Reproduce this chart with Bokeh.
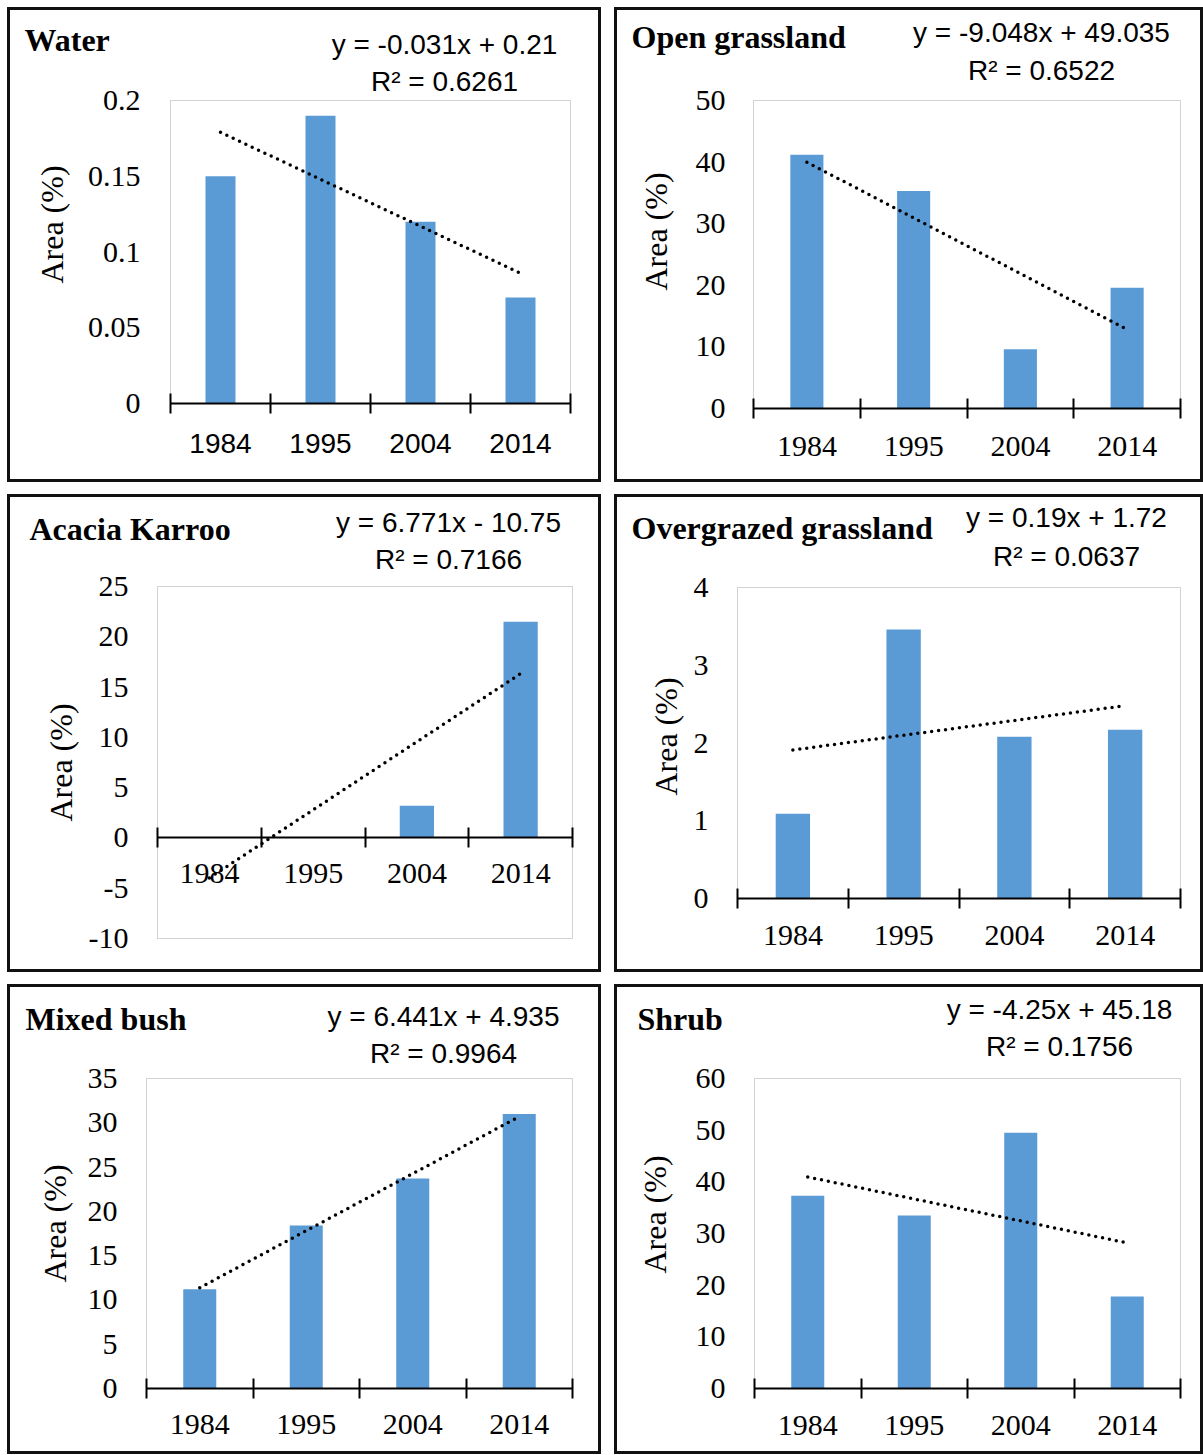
import math

from bokeh.embed import file_html
from bokeh.layouts import column, row
from bokeh.models import BoxAnnotation, ColumnDataSource, FixedTicker, Label, Range1d
from bokeh.plotting import figure
from bokeh.resources import INLINE

# ---- data -------------------------------------------------------------
years = ["1984", "1995", "2004", "2014"]

water = [0.15, 0.19, 0.12, 0.07]
open_grassland = [41.2, 35.3, 9.6, 19.6]
acacia_karroo = [0.0, 0.0, 3.2, 21.5]
overgrazed_grassland = [1.09, 3.46, 2.08, 2.17]
mixed_bush = [11.2, 18.4, 23.7, 31.0]
shrub = [37.3, 33.5, 49.5, 17.8]

# linear trend lines: slope, intercept, R²
water_fit = (-0.031, 0.21, "0.6261")
open_fit = (-9.048, 49.035, "0.6522")
acacia_fit = (6.771, -10.75, "0.7166")
overgrazed_fit = (0.19, 1.72, "0.0637")
mixed_fit = (6.441, 4.935, "0.9964")
shrub_fit = (-4.25, 45.18, "0.1756")

# y-axis ticks and their labels
water_ticks = [0, 0.05, 0.1, 0.15, 0.2]
water_tick_labels = ["0", "0.05", "0.1", "0.15", "0.2"]
open_ticks = [0, 10, 20, 30, 40, 50]
acacia_ticks = [-10, -5, 0, 5, 10, 15, 20, 25]
overgrazed_ticks = [0, 1, 2, 3, 4]
mixed_ticks = [0, 5, 10, 15, 20, 25, 30, 35]
shrub_ticks = [0, 10, 20, 30, 40, 50, 60]

# ---- styling ----------------------------------------------------------
SERIF = "Liberation Serif"
SANS = "Liberation Sans"
BAR_COLOR = "#5B9BD5"
BORDER_W = 3
PANEL_BORDER = {"border": f"{BORDER_W}px solid #111111"}
# Label draws its alphabetic baseline this many pixels below the anchor
BASELINE_SHIFT = 11


def eq_text(slope, intercept):
    sign = "+" if intercept >= 0 else "-"
    return f"y = {slope:g}x {sign} {abs(intercept):g}"


def make_panel(name, values, fit, ticks, tick_labels, lay):
    """One boxed chart. The canvas is the whole panel; the plot box, the
    axes and all texts are placed inside it in page pixel positions."""
    W, H = lay["size"]
    ox, oy = lay["origin"]
    pl, pt, pr, pb = (lay["plot"][0] - ox, lay["plot"][1] - oy,
                      lay["plot"][2] - ox, lay["plot"][3] - oy)
    n = len(years)
    ymin, ymax = ticks[0], ticks[-1]

    # ranges chosen so that the plot box lands on [pl, pr] x [pt, pb]
    xppu = (pr - pl) / n
    yppu = (pb - pt) / (ymax - ymin)
    x_range = Range1d(-pl / xppu, (W - pl) / xppu)
    y_range = Range1d(ymin + (pb - H) / yppu, ymin + pb / yppu)

    p = figure(
        width=W, height=H, output_backend="svg", toolbar_location=None, tools="",
        x_range=x_range, y_range=y_range, min_border=0,
        min_border_left=0, min_border_right=0, min_border_top=0, min_border_bottom=0,
        styles=PANEL_BORDER,
    )
    p.xgrid.visible = False
    p.ygrid.visible = False
    p.outline_line_color = None
    p.background_fill_color = "white"
    p.border_fill_color = "white"

    # plot-area frame
    p.add_layout(BoxAnnotation(left=0, right=n, bottom=ymin, top=ymax,
                               fill_alpha=0, line_color="#6b6b6b", line_width=1,
                               level="underlay"))

    xs = [i + 0.5 for i in range(n)]

    # bars
    src = ColumnDataSource(dict(x=xs, top=values))
    p.vbar(x="x", top="top", width=lay["bar_w"], source=src,
           fill_color=BAR_COLOR, line_color=None)

    # dotted linear trend over the first and last category
    slope, intercept, r2 = fit
    tx = [xs[0], xs[-1]]
    ty = [slope * 1 + intercept, slope * n + intercept]
    p.line(tx, ty, line_color="black", line_width=3.5, line_dash="0 7",
           line_cap="round")

    # x axis at zero: boundary ticks crossing the line, year labels between
    xa = p.xaxis[0]
    xa.fixed_location = 0
    xa.bounds = (0, n)
    xa.ticker = FixedTicker(ticks=xs, minor_ticks=list(range(n + 1)))
    xa.major_label_overrides = {x: yr for x, yr in zip(xs, years)}
    xa.major_tick_line_color = None
    xa.major_tick_in = 0
    xa.major_tick_out = 0
    xa.minor_tick_in = 10
    xa.minor_tick_out = 10
    xa.minor_tick_line_color = "black"
    xa.minor_tick_line_width = 2
    xa.axis_line_color = "black"
    xa.axis_line_width = 2
    xa.major_label_standoff = lay["x_standoff"]
    xa.major_label_text_font = lay.get("x_font", SERIF)
    xa.major_label_text_font_size = lay.get("x_font_size", "30px")
    xa.major_label_text_color = "black"

    # y axis on the left edge of the plot box: labels only
    ya = p.yaxis[0]
    ya.fixed_location = 0
    ya.bounds = (ymin, ymax)
    ya.ticker = FixedTicker(ticks=ticks)
    ya.major_label_overrides = {t: s for t, s in zip(ticks, tick_labels)}
    ya.axis_line_color = None
    ya.major_tick_line_color = None
    ya.minor_tick_line_color = None
    ya.major_tick_in = 0
    ya.major_tick_out = 0
    ya.major_label_standoff = lay["y_standoff"]
    ya.major_label_text_font = SERIF
    ya.major_label_text_font_size = "30px"
    ya.major_label_text_color = "black"

    def label(text, pos, font, size, style="normal", align="left", angle=0.0):
        if angle:
            sx = pos[0] - ox - BASELINE_SHIFT
            sy = H - (pos[1] - oy)
        else:
            sx = pos[0] - ox
            sy = H - (pos[1] - oy) + BASELINE_SHIFT
        p.add_layout(Label(
            x=sx, y=sy, x_units="screen", y_units="screen", text=text,
            text_font=font, text_font_size=size, text_font_style=style,
            text_align=align, text_baseline="alphabetic", angle=angle,
            text_color="black",
        ))

    ex, e1, e2 = lay["eq"]
    label(name, lay["title"], SERIF, "32px", style="bold")
    label(eq_text(slope, intercept), (ex, e1), SANS, "28px", align="center")
    label(f"R\u00b2 = {r2}", (ex, e2), SANS, "28px", align="center")
    label("Area (%)", lay["ylab"], SERIF, "32px", align="center", angle=math.pi / 2)
    return p


# page positions (pixels) of each panel's canvas, plot box and texts
layouts = {
    "water": dict(origin=(10, 10), size=(594, 475), plot=(170, 100, 570, 403),
                  title=(24, 50), eq=(444, 55, 92), ylab=(62, 224),
                  bar_w=0.30, x_standoff=20, y_standoff=30,
                  x_font=SANS, x_font_size="28px"),
    "open": dict(origin=(617, 10), size=(589, 475), plot=(753, 100, 1180, 408),
                 title=(631, 47), eq=(1041, 43, 81), ylab=(666, 231),
                 bar_w=0.31, x_standoff=18, y_standoff=28),
    "acacia": dict(origin=(10, 497), size=(594, 478), plot=(157, 586, 572, 938),
                   title=(29, 539), eq=(448, 533, 570), ylab=(71, 762),
                   bar_w=0.33, x_standoff=16, y_standoff=29),
    "overgrazed": dict(origin=(617, 497), size=(589, 478), plot=(737, 587, 1180, 898),
                       title=(631, 538), eq=(1066, 528, 567), ylab=(676, 736),
                       bar_w=0.31, x_standoff=17, y_standoff=29),
    "mixed": dict(origin=(10, 987), size=(594, 470), plot=(146, 1078, 572, 1388),
                  title=(25, 1029), eq=(443, 1027, 1064), ylab=(65, 1223),
                  bar_w=0.31, x_standoff=16, y_standoff=29),
    "shrub": dict(origin=(617, 987), size=(589, 470), plot=(754, 1078, 1180, 1388),
                  title=(637, 1029), eq=(1059, 1020, 1057), ylab=(665, 1214),
                  bar_w=0.31, x_standoff=17, y_standoff=29),
}


def int_labels(ticks):
    return [str(t) for t in ticks]


p1 = make_panel("Water", water, water_fit, water_ticks, water_tick_labels, layouts["water"])
p2 = make_panel("Open grassland", open_grassland, open_fit, open_ticks,
                int_labels(open_ticks), layouts["open"])
p3 = make_panel("Acacia Karroo", acacia_karroo, acacia_fit, acacia_ticks,
                int_labels(acacia_ticks), layouts["acacia"])
p4 = make_panel("Overgrazed grassland", overgrazed_grassland, overgrazed_fit,
                overgrazed_ticks, int_labels(overgrazed_ticks), layouts["overgrazed"])
p5 = make_panel("Mixed bush", mixed_bush, mixed_fit, mixed_ticks,
                int_labels(mixed_ticks), layouts["mixed"])
p6 = make_panel("Shrub", shrub, shrub_fit, shrub_ticks, int_labels(shrub_ticks), layouts["shrub"])

page = column(
    row(p1, p2, spacing=13),
    row(p3, p4, spacing=13),
    row(p5, p6, spacing=13),
    spacing=12,
    margin=(7, 0, 0, 7),
)

open("out.html", "w").write(file_html(page, INLINE))
